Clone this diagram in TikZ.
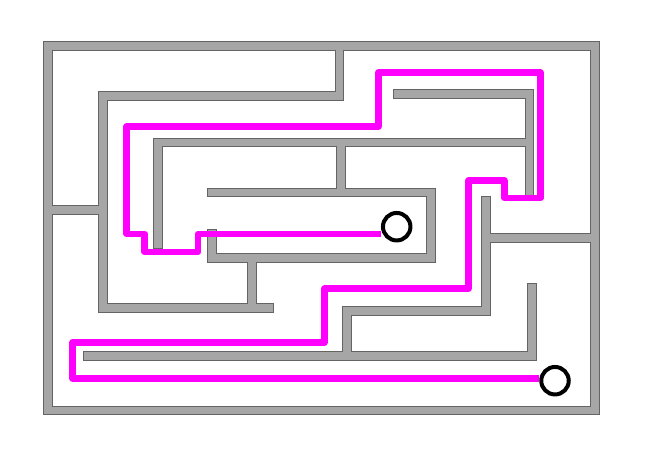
\documentclass[tikz,border=0pt]{standalone}
\definecolor{wallgrey}{HTML}{A6A6A6}
\definecolor{walldark}{HTML}{646464}
\definecolor{pathpink}{HTML}{FF00FF}
\newcommand\mazewalls[1]{%
  \draw[#1] (48,46) rectangle (595,410.5);
  \draw[#1] (339.5,46) -- (339.5,95.7) -- (103,95.7) -- (103,308) -- (269,308);
  \draw[#1] (252,308) -- (252,258);
  \draw[#1] (48,210) -- (103,210);
  \draw[#1] (397.8,94) -- (529.5,94) -- (529.5,193);
  \draw[#1] (157.8,244.5) -- (157.8,142.6) -- (529.5,142.6);
  \draw[#1] (341,142.6) -- (341,192.5);
  \draw[#1] (212,233.5) -- (212,258) -- (431,258) -- (431,192.5) -- (211.8,192.5);
  \draw[#1] (486,200.5) -- (486,311) -- (347,311) -- (347,356);
  \draw[#1] (486,238) -- (595,238);
  \draw[#1] (87.8,356) -- (531.7,356) -- (531.7,287.8);
}
\tikzset{
  walledge/.style={draw=walldark, line width=9.6pt, line cap=rect, line join=miter},
  wallfill/.style={draw=wallgrey, line width=7.6pt, line cap=rect, line join=miter},
  route/.style={draw=pathpink, line width=6.5pt, line join=round},
  ring/.style={circle, draw=black, line width=4pt, fill=white, minimum size=27.5pt, inner sep=0pt}
}
\begin{document}
\begin{tikzpicture}[x=1pt,y=-1pt]
\useasboundingbox (0,0) rectangle (650,459);
\mazewalls{walledge}
\mazewalls{wallfill}
\node[ring] (start) at (396.7,226.7) {};
\node[ring] (goal) at (555,380.7) {};
\draw[route] (start.west |- 0,234) -- (198,234) -- (198,252) -- (144.7,252) -- (144.7,234)
  -- (126.7,234) -- (126.7,126.7) -- (378.3,126.7) -- (378.3,72.7) -- (540.7,72.7)
  -- (540.7,198) -- (504.3,198) -- (504.3,180.7) -- (468.5,180.7) -- (468.5,288.7)
  -- (324.5,288.7) -- (324.5,342.3) -- (72.7,342.3) -- (72.7,378.3) -- (goal.west |- 0,378.3);
\end{tikzpicture}
\end{document}
